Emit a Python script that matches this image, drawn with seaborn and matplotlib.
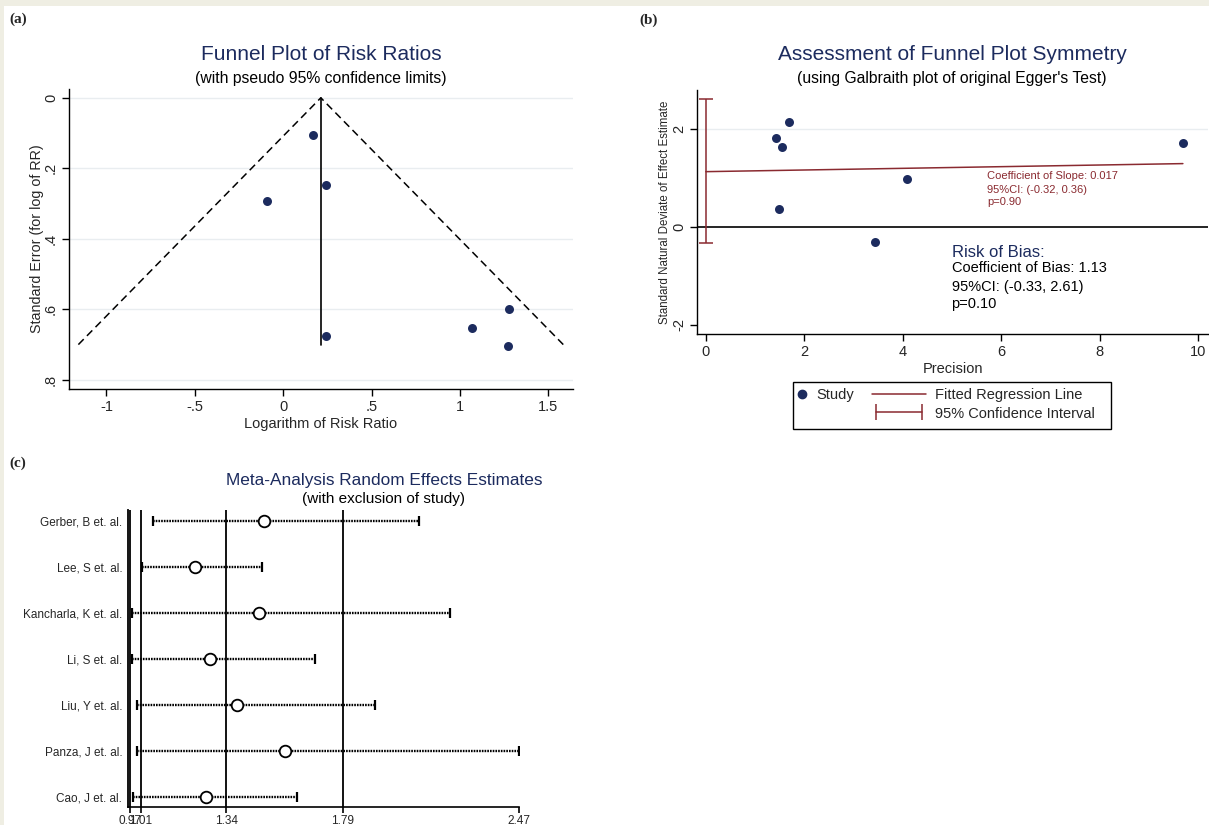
import numpy as np
import pandas as pd
import matplotlib
matplotlib.use("Agg")
import matplotlib.pyplot as plt
from matplotlib.lines import Line2D
from matplotlib.legend_handler import HandlerLine2D
from matplotlib.patches import Rectangle
import seaborn as sns

# ---------------- data ----------------
# (a) funnel plot
log_rr = [0.170, 0.241, -0.093, 0.241, 1.066, 1.279, 1.270]
se_log_rr = [0.105, 0.248, 0.293, 0.677, 0.652, 0.599, 0.703]
pooled_log_rr = 0.213
max_se = 0.70

# (b) Galbraith plot
precision = [1.43, 1.54, 1.68, 1.49, 3.44, 4.08, 9.69]
snd = [1.81, 1.64, 2.14, 0.36, -0.31, 0.99, 1.71]
bias_coef = 1.13
bias_ci = [-0.33, 2.61]
slope_coef = 0.017

# (c) influence analysis
studies = ["Gerber, B et. al.", "Lee, S et. al.", "Kancharla, K et. al.",
           "Li, S et. al.", "Liu, Y et. al.", "Panza, J et. al.", "Cao, J et. al."]
est = [1.484, 1.221, 1.465, 1.277, 1.381, 1.565, 1.260]
lower = [1.057, 1.013, 0.976, 0.976, 0.994, 0.994, 0.982]
upper = [2.083, 1.478, 2.204, 1.681, 1.916, 2.470, 1.614]
ref_lines = [0.97, 1.01, 1.34, 1.79]
c_ticks = [0.97, 1.01, 1.34, 1.79, 2.47]
c_ticklabels = ["0.97", "1.01", "1.34", "1.79", "2.47"]

# ---------------- style ----------------
sns.set_theme(style="white")
plt.rcParams["font.family"] = ["Liberation Sans", "DejaVu Sans"]
NAVY = "#1c2b5e"
MAROON = "#8a2a30"
GRID = "#e9edf0"

W, H = 1209, 825
fig = plt.figure(figsize=(W / 100, H / 100), dpi=100)
fig.patch.set_facecolor("#efeee3")
fig.add_artist(Rectangle((4 / W, 0), 1, 1 - 6 / H, transform=fig.transFigure,
                         facecolor="white", edgecolor="none", zorder=0))


def fx(px):
    return px / W


def fy(py):
    return 1 - py / H


def box(l, t, r, b):
    return [fx(l), fy(b), (r - l) / W, (b - t) / H]


# panel labels
for lab, x, y in [("(a)", 18, 19), ("(b)", 649, 20), ("(c)", 18, 463)]:
    fig.text(fx(x), fy(y), lab, family=["Liberation Serif", "DejaVu Serif"],
             weight="bold", fontsize=11, ha="center", va="center")

# ================= (a) =================
ax = fig.add_axes(box(69, 89, 573, 389))
ax.set_facecolor("none")
for g in [0, 0.2, 0.4, 0.6, 0.8]:
    ax.axhline(g, color=GRID, lw=1, zorder=0)
ax.plot([pooled_log_rr - 1.96 * max_se, pooled_log_rr, pooled_log_rr + 1.96 * max_se],
        [max_se, 0, max_se], color="black", ls=(0, (5, 3)), lw=1.1)
ax.plot([pooled_log_rr, pooled_log_rr], [0, max_se], color="black", lw=1.2)
dfa = pd.DataFrame({"logrr": log_rr, "se": se_log_rr})
sns.scatterplot(data=dfa, x="logrr", y="se", ax=ax, color=NAVY, s=42,
                edgecolor=NAVY, linewidth=0, zorder=3)
ax.set_xlim(-1.212, 1.64)
ax.set_ylim(0.826, -0.025)
ax.set_xticks([-1, -0.5, 0, 0.5, 1, 1.5])
ax.set_xticklabels(["-1", "-.5", "0", ".5", "1", "1.5"])
ax.set_yticks([0, 0.2, 0.4, 0.6, 0.8])
ax.set_yticklabels(["0", ".2", ".4", ".6", ".8"], rotation=90, va="center")
ax.tick_params(axis="both", direction="out", length=5, width=1, labelsize=10.5,
               color="black", pad=3, left=True, bottom=True)
for s in ["top", "right"]:
    ax.spines[s].set_visible(False)
for s in ["left", "bottom"]:
    ax.spines[s].set_color("black")
    ax.spines[s].set_linewidth(1)
ax.set_xlabel("Logarithm of Risk Ratio", fontsize=10.5, labelpad=2)
ax.set_ylabel("Standard Error (for log of RR)", fontsize=10.3, labelpad=0)
fig.text(fx(321), fy(55), "Funnel Plot of Risk Ratios", color=NAVY, fontsize=15,
         ha="center", va="center")
fig.text(fx(321), fy(79), "(with pseudo 95% confidence limits)", color="black",
         fontsize=11.3, ha="center", va="center")

# ================= (b) =================
bx = fig.add_axes(box(697, 90, 1208, 334))
bx.set_facecolor("none")
bx.axhline(2, color=GRID, lw=1, zorder=0)
bx.axhline(0, color="black", lw=1.2, zorder=1)
dfb = pd.DataFrame({"precision": precision, "snd": snd})
sns.scatterplot(data=dfb, x="precision", y="snd", ax=bx, color=NAVY, s=42,
                edgecolor=NAVY, linewidth=0, zorder=3)
fit_x = np.array([0, max(precision)])
bx.plot(fit_x, bias_coef + slope_coef * fit_x, color=MAROON, lw=1.1, zorder=2)
bx.errorbar([0], [bias_coef], yerr=[[bias_coef - bias_ci[0]], [bias_ci[1] - bias_coef]],
            fmt="none", ecolor=MAROON, elinewidth=1.1, capsize=4.7, capthick=1.1, zorder=2)
bx.set_xlim(-0.18, 10.2)
bx.set_ylim(-2.19, 2.8)
bx.set_xticks([0, 2, 4, 6, 8, 10])
bx.set_yticks([-2, 0, 2])
bx.set_yticklabels(["-2", "0", "2"], rotation=90, va="center")
bx.tick_params(axis="both", direction="out", length=5, width=1, labelsize=10.5,
               color="black", pad=3, left=True, bottom=True)
for s in ["top", "right"]:
    bx.spines[s].set_visible(False)
for s in ["left", "bottom"]:
    bx.spines[s].set_color("black")
    bx.spines[s].set_linewidth(1)
bx.set_xlabel("Precision", fontsize=10.5, labelpad=2)
bx.set_ylabel("Standard Natural Deviate of Effect Estimate", fontsize=8.3, labelpad=1)
for txt, yv in [(f"Coefficient of Slope: {slope_coef}", 1.04),
                ("95%CI: (-0.32, 0.36)", 0.76), ("p=0.90", 0.51)]:
    bx.text(5.71, yv, txt, color=MAROON, fontsize=8, va="center", ha="left")
bx.text(4.99, -0.52, "Risk of Bias:", color=NAVY, fontsize=12, va="center", ha="left")
bx.text(4.99, -0.85, f"Coefficient of Bias: {bias_coef}", color="black", fontsize=10.5,
        va="center", ha="left")
bx.text(4.99, -1.22, f"95%CI: ({bias_ci[0]}, {bias_ci[1]})", color="black", fontsize=10.5,
        va="center", ha="left")
bx.text(4.99, -1.57, "p=0.10", color="black", fontsize=10.5, va="center", ha="left")
fig.text(fx(952), fy(54), "Assessment of Funnel Plot Symmetry", color=NAVY, fontsize=15,
         ha="center", va="center")
fig.text(fx(952), fy(79), "(using Galbraith plot of original Egger's Test)", color="black",
         fontsize=11.3, ha="center", va="center")

# legend: frame drawn once, two frameless legends inside
fig.add_artist(Rectangle((fx(793), fy(429)), (1111 - 793) / W, (429 - 382) / H,
                         transform=fig.transFigure, facecolor="white",
                         edgecolor="black", lw=1, zorder=5))
h_study = Line2D([], [], color=NAVY, marker="o", ls="none", markersize=6)
h_fit = Line2D([], [], color=MAROON, lw=1.1)
h_ci = Line2D([], [], color=MAROON, lw=1.1, marker="|", markersize=11, markeredgewidth=1.1)
leg1 = fig.legend([h_study], ["Study"], loc="upper left",
                  bbox_to_anchor=(fx(794), fy(385)), fontsize=10.5, frameon=False,
                  handlelength=0.7, handletextpad=0.6, borderpad=0.2, borderaxespad=0)
leg1.set_zorder(6)
leg2 = fig.legend([h_fit, h_ci], ["Fitted Regression Line", "95% Confidence Interval"],
                  loc="upper left", bbox_to_anchor=(fx(869), fy(385)), fontsize=10.5,
                  frameon=False, handlelength=3.7, handletextpad=0.6, borderpad=0.2,
                  borderaxespad=0, labelspacing=0.32,
                  handler_map={h_ci: HandlerLine2D(numpoints=2)})
leg2.set_zorder(6)

# ================= (c) =================
cx = fig.add_axes(box(127.8, 510, 519, 807))
cx.set_facecolor("none")
ypos = np.arange(1, len(studies) + 1)
for v in ref_lines:
    cx.axvline(v, color="black", lw=1.3, zorder=1)
err = [np.array(est) - np.array(lower), np.array(upper) - np.array(est)]
eb = cx.errorbar(est, ypos, xerr=err, fmt="none", ecolor="black", elinewidth=1.7,
                 capsize=3.5, capthick=1.6, zorder=2)
eb[2][0].set_linestyle((0, (0.7, 0.45)))
dfc = pd.DataFrame({"est": est, "row": ypos})
sns.scatterplot(data=dfc, x="est", y="row", ax=cx, s=70, facecolor="white",
                edgecolor="black", linewidth=1.3, zorder=3)
cx.set_xlim(0.96, 2.47)
cx.set_ylim(7.21, 0.768)
cx.set_yticks(ypos)
cx.set_yticklabels(studies)
cx.set_xticks(c_ticks)
cx.set_xticklabels(c_ticklabels)
cx.tick_params(axis="y", length=0, labelsize=8.5, pad=4)
cx.tick_params(axis="x", direction="out", length=4, width=1.2, labelsize=8.5, pad=1.5,
               bottom=True, color="black")
cx.set_xlabel("")
cx.set_ylabel("")
for s in ["top", "right"]:
    cx.spines[s].set_visible(False)
cx.spines["left"].set_linewidth(1.3)
cx.spines["left"].set_color("black")
cx.spines["bottom"].set_linewidth(1.2)
cx.spines["bottom"].set_color("black")
fig.text(fx(384), fy(480), "Meta-Analysis Random Effects Estimates", color=NAVY,
         fontsize=12.4, ha="center", va="center")
fig.text(fx(384), fy(499), "(with exclusion of study)", color="black", fontsize=11,
         ha="center", va="center")

fig.savefig("out.png", dpi=100, facecolor=fig.get_facecolor())
